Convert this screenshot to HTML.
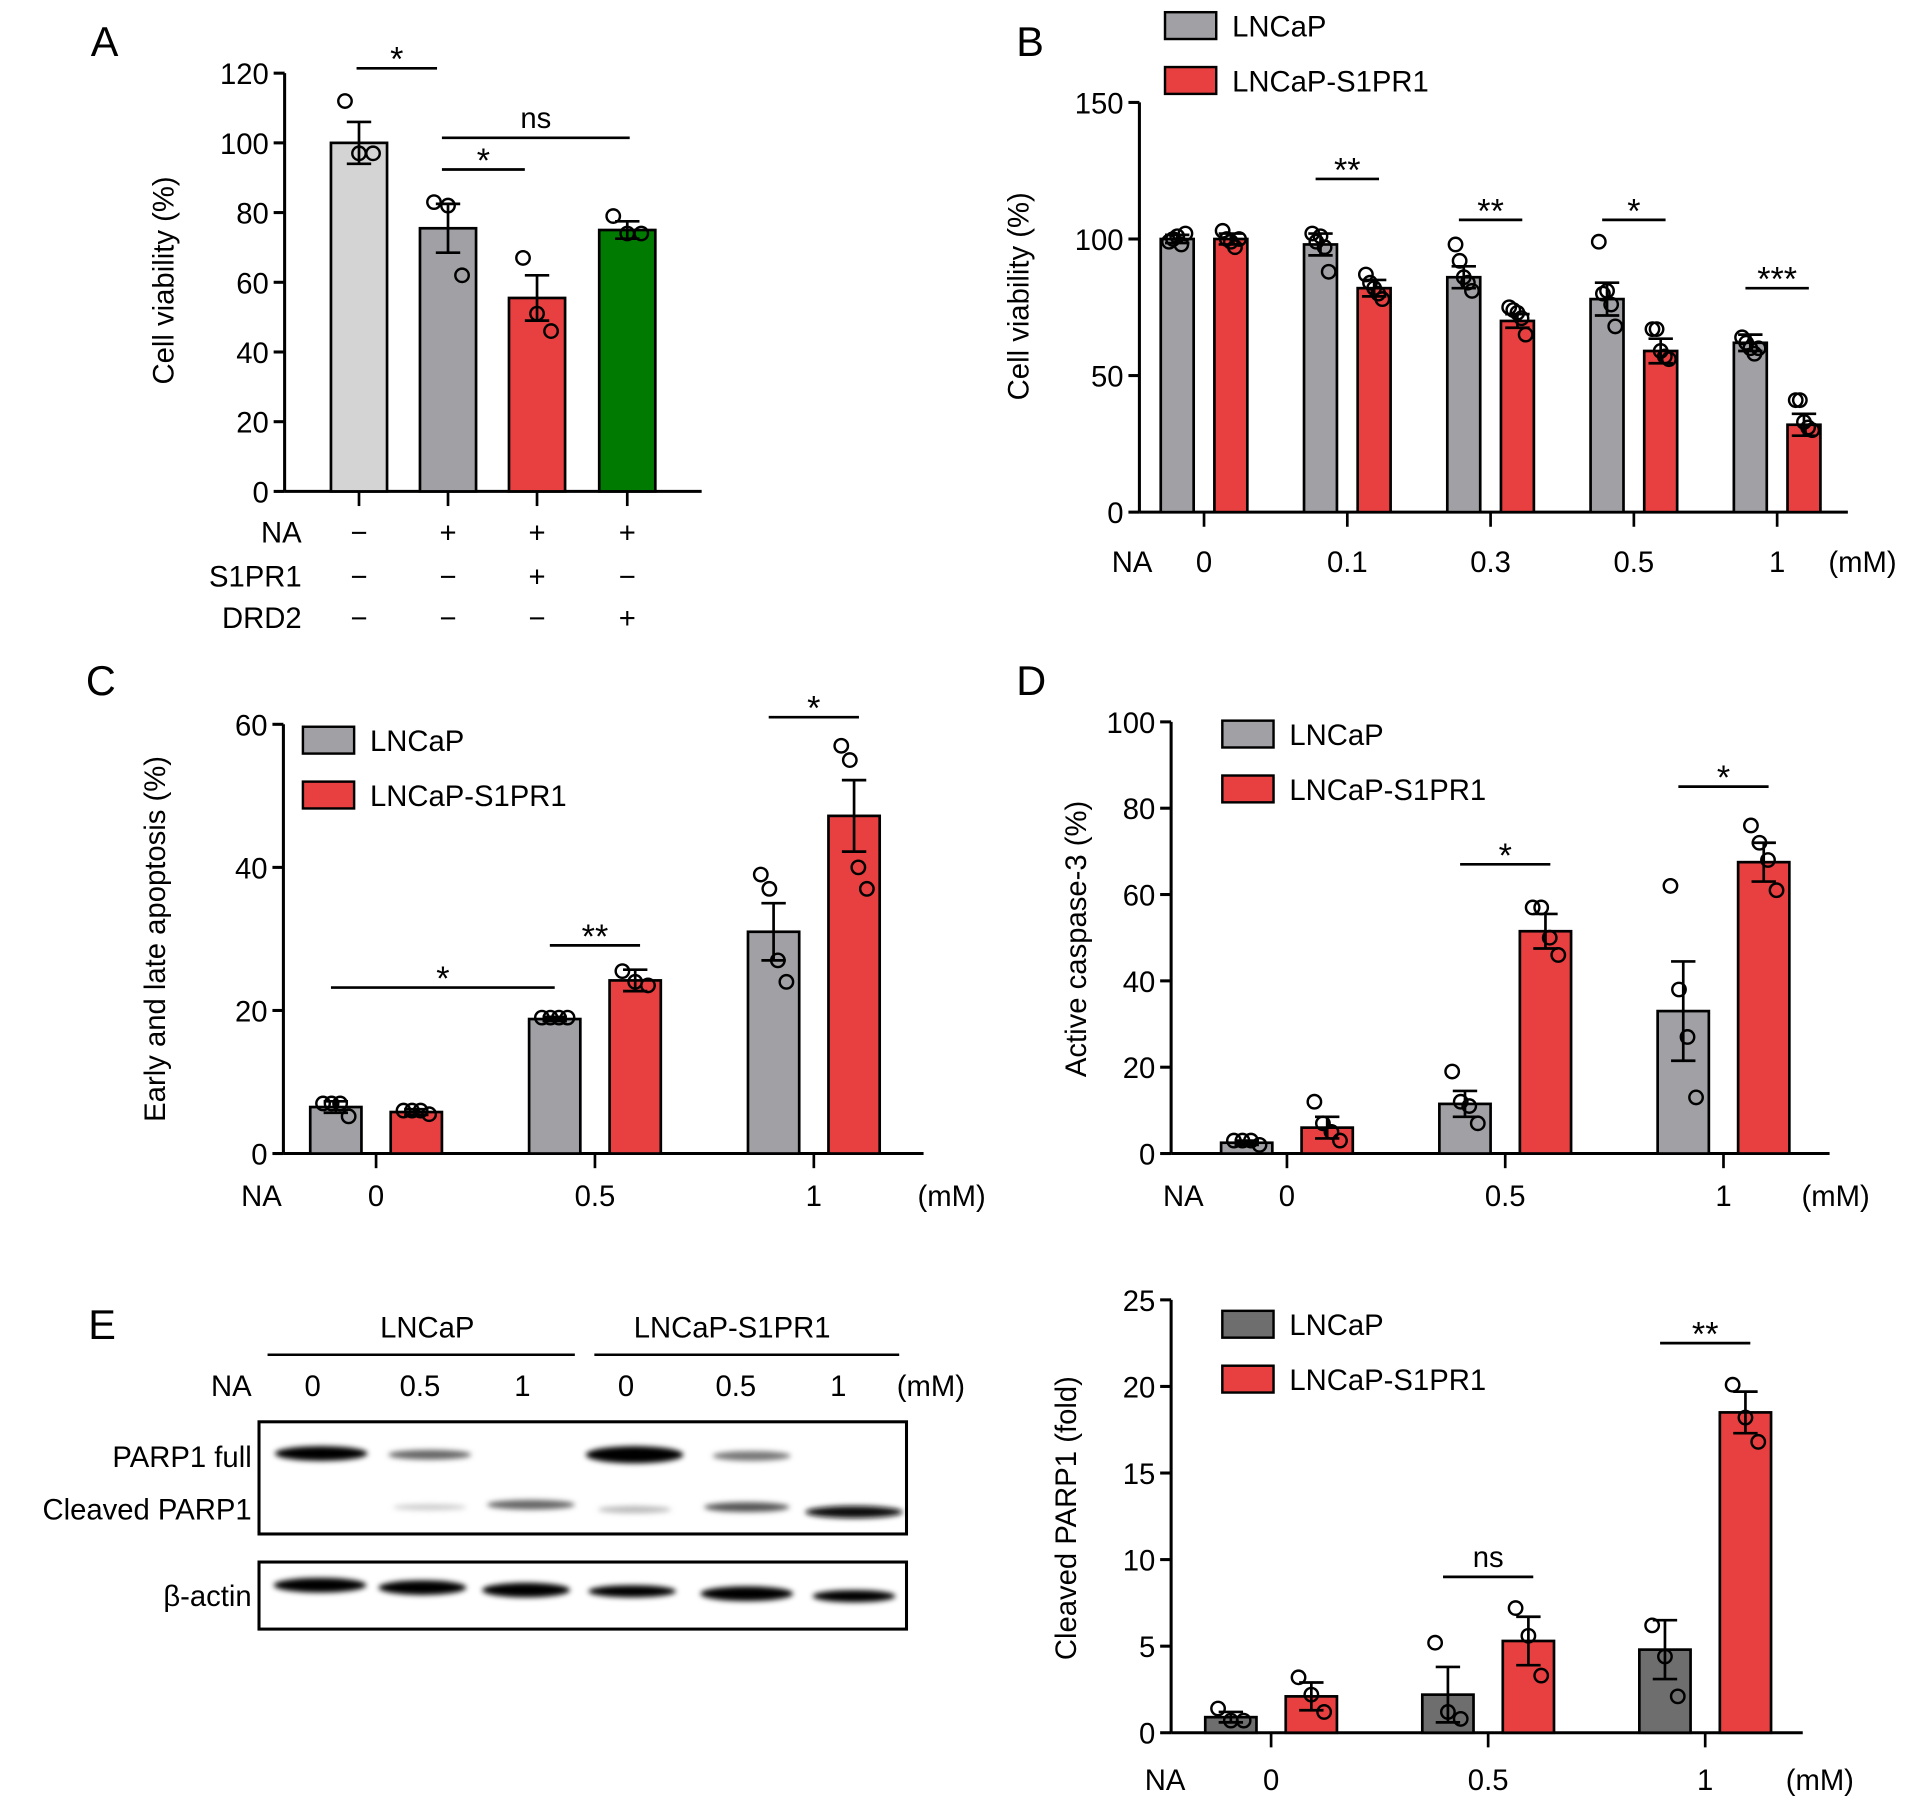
<!DOCTYPE html>
<html><head><meta charset="utf-8"><style>
html,body{margin:0;padding:0;background:#fff;}
svg{display:block;font-family:"Liberation Sans",Arial,sans-serif;}
</style></head><body>
<svg id="fig" width="1913" height="1812" viewBox="0 0 1568 1486" xmlns="http://www.w3.org/2000/svg">
<defs><filter id="blur" x="-20%" y="-100%" width="140%" height="300%"><feGaussianBlur stdDeviation="2.2"/></filter></defs>
<g font-size="34" fill="#000">
<text x="74" y="46">A</text>
<text x="833" y="46">B</text>
<text x="70" y="570">C</text>
<text x="833" y="570">D</text>
<text x="72" y="1098">E</text>
</g>
<g font-size="24">
<text x="350" y="1097" text-anchor="middle">LNCaP</text>
<text x="600" y="1097" text-anchor="middle">LNCaP-S1PR1</text>
<line x1="219" y1="1111" x2="471" y2="1111" stroke="#000" stroke-width="2"/>
<line x1="487" y1="1111" x2="737" y2="1111" stroke="#000" stroke-width="2"/>
<text x="206" y="1145" text-anchor="end">NA</text>
<text x="256" y="1145" text-anchor="middle">0</text>
<text x="344" y="1145" text-anchor="middle">0.5</text>
<text x="428" y="1145" text-anchor="middle">1</text>
<text x="513" y="1145" text-anchor="middle">0</text>
<text x="603" y="1145" text-anchor="middle">0.5</text>
<text x="687" y="1145" text-anchor="middle">1</text>
<text x="735" y="1145">(mM)</text>
<text x="206" y="1203" text-anchor="end">PARP1 full</text>
<text x="206" y="1246" text-anchor="end">Cleaved PARP1</text>
<text x="206" y="1317" text-anchor="end">β-actin</text>
<rect x="212" y="1166" width="531" height="92" fill="#fff" stroke="#000" stroke-width="2.5"/>
<rect x="212" y="1281" width="531" height="55" fill="#fff" stroke="#000" stroke-width="2.5"/>
<g filter="url(#blur)">
<ellipse cx="263" cy="1192" rx="38" ry="6" fill="#000"/>
<ellipse cx="352" cy="1193" rx="34" ry="4" fill="#666"/>
<ellipse cx="520" cy="1193" rx="40" ry="7" fill="#000"/>
<ellipse cx="616" cy="1194" rx="32" ry="4" fill="#777"/>
<ellipse cx="435" cy="1234" rx="36" ry="4" fill="#666"/>
<ellipse cx="612" cy="1236" rx="35" ry="4" fill="#555"/>
<ellipse cx="700" cy="1240" rx="40" ry="5" fill="#111"/>
<ellipse cx="352" cy="1236" rx="30" ry="2.5" fill="#ccc"/>
<ellipse cx="520" cy="1238" rx="30" ry="3" fill="#bbb"/>
<ellipse cx="262" cy="1300" rx="38" ry="6" fill="#000"/>
<ellipse cx="346" cy="1302" rx="36" ry="6" fill="#000"/>
<ellipse cx="431" cy="1304" rx="36" ry="6" fill="#000"/>
<ellipse cx="518" cy="1305" rx="36" ry="5" fill="#000"/>
<ellipse cx="612" cy="1307" rx="38" ry="6" fill="#000"/>
<ellipse cx="700" cy="1309" rx="34" ry="5" fill="#000"/>
</g>
</g>
<g id="charts"></g>
</svg>
<script>
// ---------- Panel A ----------
const aCategories = ["ctrl", "NA", "NA+S1PR1", "NA+DRD2"];
const aValues = [100, 75.5, 55.5, 75];
const aErrors = [6, 7, 6.5, 2.5];
const aPoints = [[112, 97, 97], [83, 82, 62], [67, 51, 46], [79, 74, 74]];
const aTicks = [0, 20, 40, 60, 80, 100, 120];
// ---------- Panel B ----------
const bCategories = ["0", "0.1", "0.3", "0.5", "1"];
const bLncap = [100, 98, 86, 78, 62];
const bLncapErr = [1.5, 4, 4, 6, 3];
const bS1pr1 = [100, 82, 70, 59, 32];
const bS1pr1Err = [2, 3, 2.5, 4.5, 4];
const bLncapPts = [[99, 100, 101, 98, 102], [102, 99, 101, 97, 88], [98, 92, 86, 84, 81], [99, 80, 81, 76, 68], [64, 62, 60, 58, 60]];
const bS1pr1Pts = [[103, 100, 99, 97, 100], [87, 84, 82, 80, 78], [75, 74, 73, 71, 65], [67, 67, 59, 57, 56], [41, 41, 33, 31, 30]];
const bTicks = [0, 50, 100, 150];
// ---------- Panel C ----------
const cCategories = ["0", "0.5", "1"];
const cLncap = [6.5, 18.8, 31];
const cLncapErr = [0.8, 0.3, 4];
const cS1pr1 = [5.8, 24.2, 47.2];
const cS1pr1Err = [0.4, 1.5, 5];
const cLncapPts = [[7, 7, 7, 5.2], [19, 19, 19, 19], [39, 37, 27, 24]];
const cS1pr1Pts = [[6, 6, 6, 5.5], [25.5, 24, 23.5], [57, 55, 40, 37]];
const cTicks = [0, 20, 40, 60];
// ---------- Panel D ----------
const dCategories = ["0", "0.5", "1"];
const dLncap = [2.5, 11.5, 33];
const dLncapErr = [0.5, 3, 11.5];
const dS1pr1 = [6, 51.5, 67.5];
const dS1pr1Err = [2.5, 4, 4.5];
const dLncapPts = [[3, 3, 3, 2], [19, 12, 11, 7], [62, 38, 27, 13]];
const dS1pr1Pts = [[12, 7, 5, 3], [57, 57, 50, 46], [76, 72, 68, 61]];
const dTicks = [0, 20, 40, 60, 80, 100];
// ---------- Panel E (quantification) ----------
const eCategories = ["0", "0.5", "1"];
const eLncap = [0.9, 2.2, 4.8];
const eLncapErr = [0.3, 1.6, 1.7];
const eS1pr1 = [2.1, 5.3, 18.5];
const eS1pr1Err = [0.8, 1.4, 1.2];
const eLncapPts = [[1.4, 0.7, 0.7], [5.2, 1.2, 0.8], [6.2, 4.4, 2.1]];
const eS1pr1Pts = [[3.2, 2.2, 1.2], [7.2, 5.6, 3.3], [20.1, 18.2, 16.8]];
const eTicks = [0, 5, 10, 15, 20, 25];

const NS = "http://www.w3.org/2000/svg";
const root = document.getElementById("charts");
function mk(tag, attrs, parent) {
  const e = document.createElementNS(NS, tag);
  for (const k in attrs) e.setAttribute(k, attrs[k]);
  (parent || root).appendChild(e);
  return e;
}
function txt(parent, x, y, s, anchor, size, name) {
  const t = mk("text", {x: x, y: y, "text-anchor": anchor || "middle", "font-size": size || 24}, parent);
  t.textContent = s;
  
  
  return t;
}
function axisY(g, x0, x1, yScale, ticks, labelX, labelY, title, name) {
  mk("line", {x1: x0, y1: yScale(ticks[0]), x2: x0, y2: yScale(ticks[ticks.length - 1]), stroke: "#000", "stroke-width": 2.5}, g);
  mk("line", {x1: x0, y1: yScale(0), x2: x1, y2: yScale(0), stroke: "#000", "stroke-width": 2.5}, g);
  ticks.forEach(t => {
    mk("line", {x1: x0 - 9, y1: yScale(t), x2: x0, y2: yScale(t), stroke: "#000", "stroke-width": 2.5}, g);
    txt(g, x0 - 13, yScale(t) + 9, String(t), "end", 24, name + '-tick-label');
  });
  const tt = txt(g, 0, 0, title, "middle", 24, name + '-y-axis-title');
  tt.setAttribute("transform", "translate(" + labelX + "," + labelY + ") rotate(-90)");
}
function bar(g, cx, w, val, err, pts, yScale, fill, name) {
  const r = mk("rect", {x: cx - w / 2, y: yScale(val), width: w, height: yScale(0) - yScale(val), fill: fill, stroke: "#000", "stroke-width": 2.2}, g);
  
  
  const yt = yScale(val + err), yb = yScale(val - err);
  mk("line", {x1: cx, y1: yt, x2: cx, y2: yb, stroke: "#000", "stroke-width": 2.2}, g);
  mk("line", {x1: cx - 10, y1: yt, x2: cx + 10, y2: yt, stroke: "#000", "stroke-width": 2.2}, g);
  mk("line", {x1: cx - 10, y1: yb, x2: cx + 10, y2: yb, stroke: "#000", "stroke-width": 2.2}, g);
  const n = pts.length;
  pts.forEach((p, i) => {
    const off = n === 1 ? 0 : (i - (n - 1) / 2) * (w * 0.5 / (n - 1));
    const c = mk("circle", {cx: cx + off, cy: yScale(p), r: 5.5, fill: "none", stroke: "#000", "stroke-width": 2}, g);
    
    
  });
}
function sig(g, x1, x2, y, s, name) {
  mk("line", {x1: x1, y1: y, x2: x2, y2: y, stroke: "#000", "stroke-width": 2.2}, g);
  txt(g, (x1 + x2) / 2, s === "ns" ? y - 8 : y + 2, s, "middle", s === "ns" ? 24 : 28, name);
}
function legend(g, x, y1, y2, grey, name) {
  const r1 = mk("rect", {x: x, y: y1, width: 42, height: 22, fill: grey, stroke: "#000", "stroke-width": 2}, g);
  
  
  txt(g, x + 55, y1 + 20, "LNCaP", "start", 24, name + '-legend-lncap');
  const r2 = mk("rect", {x: x, y: y2, width: 42, height: 22, fill: "#e84040", stroke: "#000", "stroke-width": 2}, g);
  
  
  txt(g, x + 55, y2 + 20, "LNCaP-S1PR1", "start", 24, name + '-legend-s1pr1');
}
function group(name) {
  const g = mk("g", {});
  
  
  return g;
}
function pairedChart(opts) {
  const g = group(opts.name);
  const ys = v => opts.y0 - v * (opts.y0 - opts.yTop) / opts.ticks[opts.ticks.length - 1];
  axisY(g, opts.x0, opts.x1, ys, opts.ticks, opts.titleX, opts.titleY, opts.title, opts.name);
  opts.cats.forEach((c, i) => {
    const gc = opts.gx0 + i * opts.gstep;
    mk("line", {x1: gc, y1: opts.y0, x2: gc, y2: opts.y0 + 12, stroke: "#000", "stroke-width": 2.2}, g);
    bar(g, gc - opts.half, opts.bw, opts.v1[i], opts.e1[i], opts.p1[i], ys, opts.grey, opts.name + '-bar-lncap-' + c);
    bar(g, gc + opts.half, opts.bw, opts.v2[i], opts.e2[i], opts.p2[i], ys, "#e84040", opts.name + '-bar-s1pr1-' + c);
    txt(g, gc, opts.labY, c, "middle", 24, opts.name + '-x-tick-label');
  });
  txt(g, opts.naX, opts.labY, "NA", "middle", 24, opts.name + '-x-na-label');
  txt(g, opts.mmX, opts.labY, "(mM)", "middle", 24, opts.name + '-x-unit');
  legend(g, opts.legX, opts.legY1, opts.legY2, opts.grey, opts.name);
  (opts.sigs || []).forEach(s => {
    const gc = opts.gx0 + s[0] * opts.gstep;
    const x1 = s[3] !== undefined ? opts.gx0 + s[3] * opts.gstep - opts.half - 4 : gc - opts.half - 4;
    const x2 = s[4] === "lncap" ? gc - opts.half : gc + opts.half + 4;
    sig(g, x1, x2, ys(s[1]), s[2], opts.name + '-significance');
  });
  return g;
}

// Panel A
(function () {
  const g = group("panel-a-chart");
  const ys = v => 403 - v * (403 - 60) / 120;
  axisY(g, 233, 575, ys, aTicks, 142, 230, "Cell viability (%)", "panel-a");
  const cols = ["#d4d4d4", "#a0a0a5", "#e84040", "#007a00"];
  const xs = [294, 367, 440, 514];
  const na = ["−", "+", "+", "+"], s1 = ["−", "−", "+", "−"], d2 = ["−", "−", "−", "+"];
  aCategories.forEach((c, i) => {
    mk("line", {x1: xs[i], y1: 403, x2: xs[i], y2: 415, stroke: "#000", "stroke-width": 2.2}, g);
    bar(g, xs[i], 46, aValues[i], aErrors[i], aPoints[i], ys, cols[i], 'panel-a-bar-' + i);
    txt(g, xs[i], 445, na[i], "middle", 24, 'panel-a-na-sign');
    txt(g, xs[i], 481, s1[i], "middle", 24, 'panel-a-s1pr1-sign');
    txt(g, xs[i], 515, d2[i], "middle", 24, 'panel-a-drd2-sign');
  });
  txt(g, 247, 445, "NA", "end", 24, 'panel-a-na-label');
  txt(g, 247, 481, "S1PR1", "end", 24, 'panel-a-s1pr1-label');
  txt(g, 247, 515, "DRD2", "end", 24, 'panel-a-drd2-label');
  sig(g, 292, 358, 56, "*", 'panel-a-significance');
  sig(g, 362, 516, 113, "ns", 'panel-a-significance-ns');
  sig(g, 362, 430, 139, "*", 'panel-a-significance');
})();

pairedChart({name: "panel-b-chart", cats: bCategories, v1: bLncap, e1: bLncapErr, v2: bS1pr1, e2: bS1pr1Err, p1: bLncapPts, p2: bS1pr1Pts,
  ticks: bTicks, x0: 934, x1: 1515, y0: 420, yTop: 84, gx0: 987, gstep: 117.5, half: 22, bw: 27, grey: "#a0a0a5",
  title: "Cell viability (%)", titleX: 843, titleY: 243, labY: 469, naX: 928, mmX: 1527, legX: 955, legY1: 10, legY2: 55,
  sigs: [[1, 122, "**"], [2, 107, "**"], [3, 107, "*"], [4, 82, "***"]]});

pairedChart({name: "panel-c-chart", cats: cCategories, v1: cLncap, e1: cLncapErr, v2: cS1pr1, e2: cS1pr1Err, p1: cLncapPts, p2: cS1pr1Pts,
  ticks: cTicks, x0: 232, x1: 757, y0: 946, yTop: 594, gx0: 308, gstep: 179.5, half: 33, bw: 42, grey: "#a0a0a5",
  title: "Early and late apoptosis (%)", titleX: 135, titleY: 770, labY: 989, naX: 214, mmX: 780, legX: 248, legY1: 596, legY2: 641,
  sigs: [[1, 29.1, "**"], [2, 61, "*"], [1, 23.2, "*", 0, "lncap"]]});

pairedChart({name: "panel-d-chart", cats: dCategories, v1: dLncap, e1: dLncapErr, v2: dS1pr1, e2: dS1pr1Err, p1: dLncapPts, p2: dS1pr1Pts,
  ticks: dTicks, x0: 960, x1: 1500, y0: 946, yTop: 592, gx0: 1055, gstep: 179, half: 33, bw: 42, grey: "#a0a0a5",
  title: "Active caspase-3 (%)", titleX: 890, titleY: 770, labY: 989, naX: 970, mmX: 1505, legX: 1002, legY1: 591, legY2: 636,
  sigs: [[1, 67, "*"], [2, 85, "*"]]});

pairedChart({name: "panel-e-chart", cats: eCategories, v1: eLncap, e1: eLncapErr, v2: eS1pr1, e2: eS1pr1Err, p1: eLncapPts, p2: eS1pr1Pts,
  ticks: eTicks, x0: 960, x1: 1478, y0: 1421, yTop: 1066, gx0: 1042, gstep: 178, half: 33, bw: 42, grey: "#6e6e6e",
  title: "Cleaved PARP1 (fold)", titleX: 882, titleY: 1245, labY: 1468, naX: 955, mmX: 1492, legX: 1002, legY1: 1075, legY2: 1120,
  sigs: [[1, 9, "ns"], [2, 22.5, "**"]]});
</script>
</body></html>
